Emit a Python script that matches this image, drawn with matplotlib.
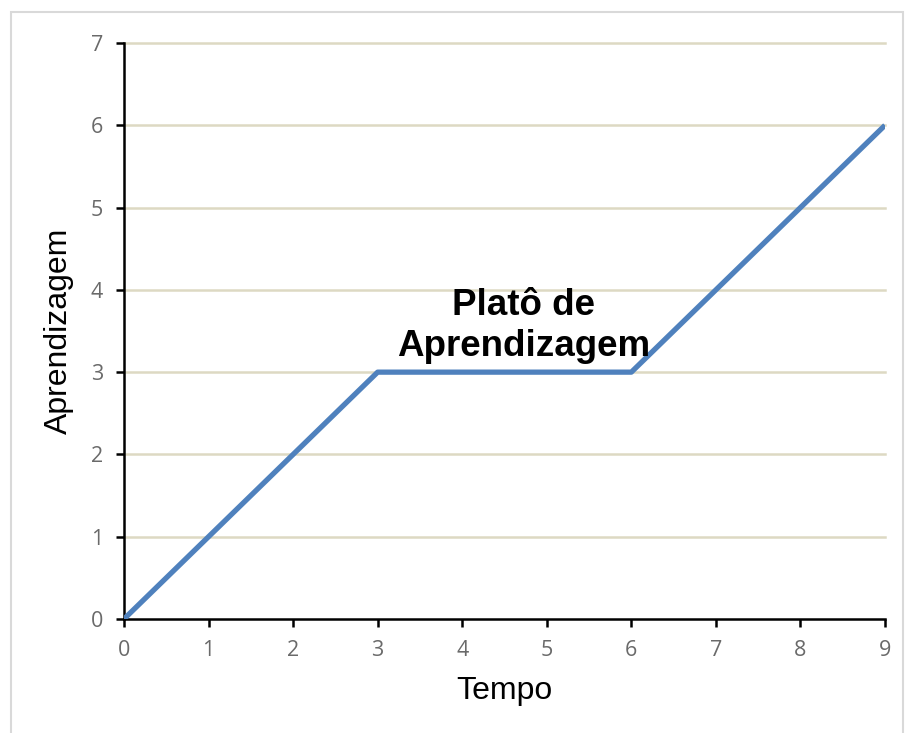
import matplotlib.pyplot as plt
from matplotlib.patches import Rectangle

# dados
tempo = [0, 3, 6, 9]
aprendizagem = [0, 3, 3, 6]
xticks = list(range(0, 10))
yticks = list(range(0, 8))

plt.rcParams['font.family'] = ['Open Sans', 'DejaVu Sans']

fig = plt.figure(figsize=(9.06, 7.33), dpi=100)
fig.patches.append(Rectangle((11 / 906, -0.1), (892 / 906), 1.1 - 12 / 733,
                             transform=fig.transFigure, fill=False,
                             edgecolor='#d9d9d9', linewidth=1.5))

ax = fig.add_axes([124 / 906, 1 - 619 / 733, 761 / 906, 576 / 733])
ax.plot(tempo, aprendizagem, color='#4f81bd', linewidth=3.8, solid_capstyle='butt', zorder=3)

ax.set_xlim(0, 9)
ax.set_ylim(0, 7)
ax.set_xticks(xticks)
ax.set_yticks(yticks)
for y in yticks[1:]:
    ax.axhline(y, color='#ddd9c3', linewidth=1.8, zorder=1, clip_on=False)

for s in ['top', 'right']:
    ax.spines[s].set_visible(False)
for s in ['left', 'bottom']:
    ax.spines[s].set_linewidth(1.8)
    ax.spines[s].set_color('black')
ax.tick_params(direction='out', length=6, width=1.8, colors='black',
               labelcolor='#6a6a6a', labelsize=15.5)
ax.tick_params(axis='x', pad=9)
ax.tick_params(axis='y', pad=9)

ax.set_xlabel('Tempo', fontsize=23, family='Liberation Sans', labelpad=11)
ax.set_ylabel('Aprendizagem', fontsize=23, family='Liberation Sans', labelpad=12)

ax.text(4.73, 3.56, 'Platô de\nAprendizagem', ha='center', va='center',
        fontsize=26.5, fontweight='bold', family='Liberation Sans',
        linespacing=1.2, zorder=4)

fig.savefig('out.png', dpi=100)
